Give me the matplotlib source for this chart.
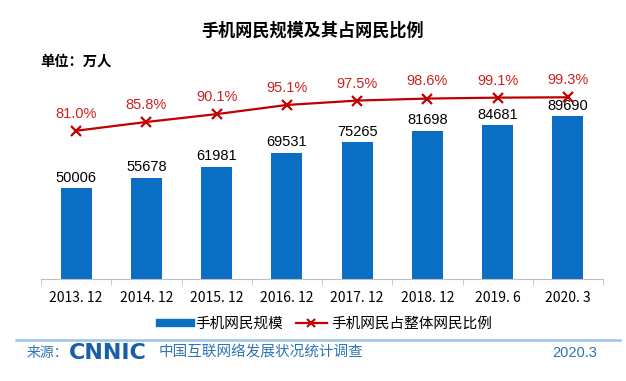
import matplotlib
matplotlib.use("Agg")
import matplotlib.pyplot as plt
from matplotlib.lines import Line2D
import numpy as np

plt.rcParams['font.family'] = ['Noto Sans CJK SC', 'DejaVu Sans']

categories = ["2013. 12", "2014. 12", "2015. 12", "2016. 12", "2017. 12", "2018. 12", "2019. 6", "2020. 3"]
users = [50006, 55678, 61981, 69531, 75265, 81698, 84681, 89690]
share = [81.0, 85.8, 90.1, 95.1, 97.5, 98.6, 99.1, 99.3]

BLUE = "#0A6EC4"
RED = "#C00000"
FOOT = "#2E75B6"
NUMFONT = ['Liberation Sans', 'DejaVu Sans']

W, H = 626, 381
fig = plt.figure(figsize=(W / 100, H / 100), dpi=100)

ax_left, ax_right = 41, 603
ax_top, ax_bot = 60, 279
ax = fig.add_axes([ax_left / W, 1 - ax_bot / H, (ax_right - ax_left) / W, (ax_bot - ax_top) / H])
ax.patch.set_alpha(0)
x = np.arange(len(categories))
ax.bar(x, users, width=0.44, color=BLUE, zorder=2)
ax.set_xlim(-0.5, len(categories) - 0.5)
ax.set_ylim(0, (ax_bot - ax_top) / 0.001814)
for xi, v in zip(x, users):
    ax.text(xi, v + 2000, f"{v}", ha='center', va='bottom', fontsize=10.5, color='black',
            family=NUMFONT)

for s in ['top', 'right', 'left']:
    ax.spines[s].set_visible(False)
ax.spines['bottom'].set_color('#BFBFBF')
ax.set_yticks([])
ax.set_xticks(x)
ax.set_xticklabels(categories, fontsize=10)
ax.tick_params(axis='x', length=0, pad=9)
ax.set_xticks(np.arange(-0.5, len(categories)), minor=True)
ax.tick_params(axis='x', which='minor', length=4, color='#BFBFBF')

ax2 = ax.twinx()
ax2.set_ylim(0, (ax_bot - ax_top) / 1.83)
ax2.plot(x, share, color=RED, lw=1.6, marker='x', markersize=7, markeredgewidth=1.6, zorder=3)
for xi, v in zip(x, share):
    ax2.text(xi, v + 5.5, f"{v:.1f}%", ha='center', va='bottom', fontsize=10.5, color='#D02020',
             family=NUMFONT)
ax2.set_yticks([])
for s in ax2.spines.values():
    s.set_visible(False)

fig.text(313 / W, 1 - 31 / H, "手机网民规模及其占网民比例", ha='center', va='center',
         fontsize=12.3, fontweight='bold')
fig.text(40 / W, 1 - 62 / H, "单位：万人", ha='left', va='center', fontsize=10.3, fontweight='bold')

handles = [Line2D([0], [0], color=BLUE, lw=6),
           Line2D([0], [0], color=RED, lw=1.6, marker='x', markersize=6, markeredgewidth=1.5)]
fig.legend(handles, ["手机网民规模", "手机网民占整体网民比例"], loc='center',
           bbox_to_anchor=(326 / W, 1 - 324 / H), ncol=2, frameon=False, fontsize=10.5,
           handlelength=2.1, columnspacing=0.9, handletextpad=0.3)

fig.add_artist(Line2D([16 / W, 620 / W], [1 - 340 / H, 1 - 340 / H], color='#9DC3E6', lw=1.8))
fig.text(27 / W, 1 - 353 / H, "来源：", ha='left', va='center', fontsize=10, color=FOOT)
fig.text(69 / W, 1 - 353 / H, "CNNIC", ha='left', va='center', fontsize=16, fontweight='bold',
         color='#1A5FA8', family='DejaVu Sans')
fig.text(159 / W, 1 - 353 / H, "中国互联网络发展状况统计调查", ha='left', va='center', fontsize=10.5,
         color=FOOT)
fig.text(597 / W, 1 - 353 / H, "2020.3", ha='right', va='center', fontsize=10.5, color=FOOT,
         family=NUMFONT)

fig.savefig("out.png", dpi=100)
